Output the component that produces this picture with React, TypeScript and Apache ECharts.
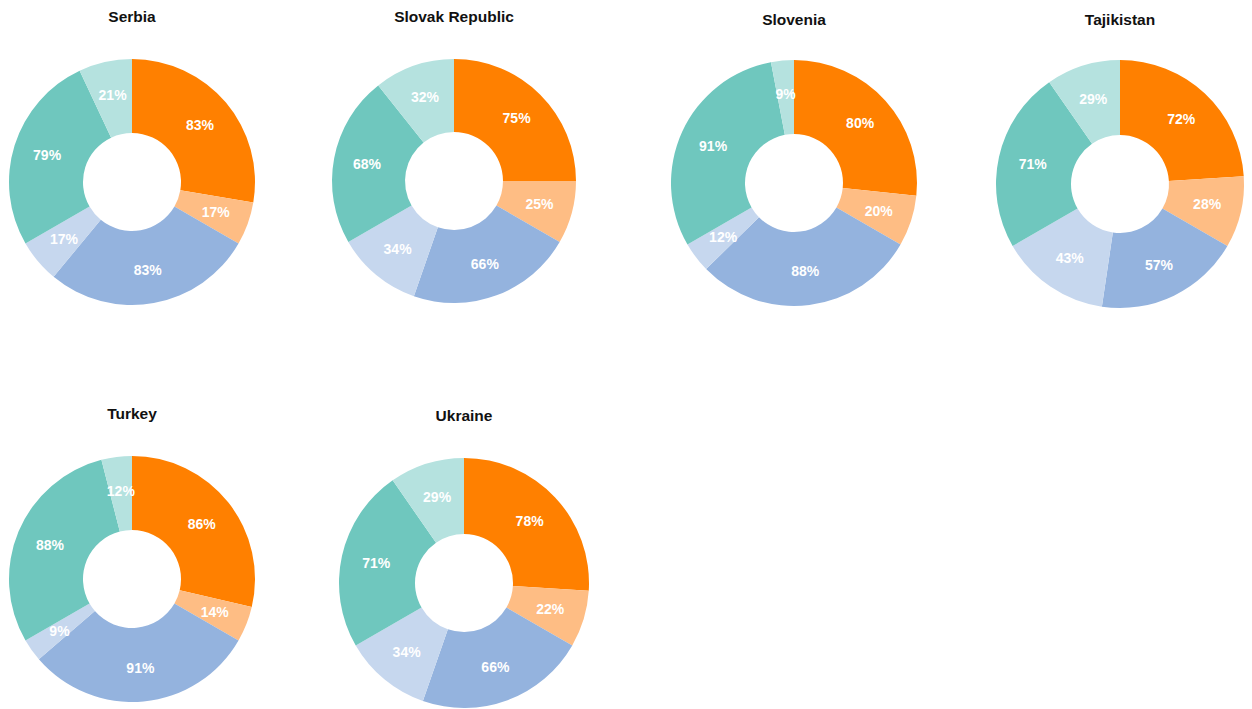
import React, { useEffect, useRef } from "react";
import * as echarts from "echarts";

const countries = ["Serbia", "Slovak Republic", "Slovenia", "Tajikistan", "Turkey", "Ukraine"];
const sliceNames = ["A yes", "A no", "B yes", "B no", "C yes", "C no"];
const serbia = [83, 17, 83, 17, 79, 21];
const slovak = [75, 25, 66, 34, 68, 32];
const slovenia = [80, 20, 88, 12, 91, 9];
const tajikistan = [72, 28, 57, 43, 71, 29];
const turkey = [86, 14, 91, 9, 88, 12];
const ukraine = [78, 22, 66, 34, 71, 29];
const values = [serbia, slovak, slovenia, tajikistan, turkey, ukraine];

const colors = ["#FF8000", "#FEBD84", "#94B3DE", "#C6D7EE", "#6FC7BE", "#B5E2DF"];

const layout = [
  { cx: 132, cy: 182, r: 123, ty: 17 },
  { cx: 454, cy: 181, r: 122, ty: 17 },
  { cx: 794, cy: 183, r: 123, ty: 20 },
  { cx: 1120, cy: 184, r: 124, ty: 20 },
  { cx: 132, cy: 579, r: 123, ty: 414 },
  { cx: 464, cy: 583, r: 125, ty: 416 },
];

export default function App() {
  const ref = useRef<HTMLDivElement>(null);
  useEffect(() => {
    if (!ref.current) return;
    const chart = echarts.init(ref.current, null, { renderer: "svg" });
    chart.setOption({
      animation: false,
      backgroundColor: "#ffffff",
      title: countries.map((c, i) => ({
        text: c,
        left: layout[i].cx,
        top: layout[i].ty - 9,
        textAlign: "center",
        padding: 0,
        textStyle: {
          fontFamily: "Liberation Sans, Arial, sans-serif",
          fontSize: 15.5,
          fontWeight: "bold",
          color: "#111111",
        },
      })),
      series: countries.map((c, i) => ({
        type: "pie",
        name: c,
        center: [layout[i].cx, layout[i].cy],
        radius: [49, layout[i].r],
        startAngle: 90,
        clockwise: true,
        avoidLabelOverlap: false,
        itemStyle: { borderWidth: 0 },
        label: {
          show: true,
          position: "inside",
          formatter: (p: any) => p.value + "%",
          color: "#ffffff",
          fontFamily: "Liberation Sans, Arial, sans-serif",
          fontSize: 14,
          fontWeight: "bold",
        },
        labelLine: { show: false },
        emphasis: { disabled: true },
        data: values[i].map((v, j) => ({
          name: sliceNames[j],
          value: v,
          itemStyle: { color: colors[j] },
        })),
      })),
    });
    return () => chart.dispose();
  }, []);
  return (
    <div
      ref={ref}
      style={{ position: "fixed", left: 0, top: 0, width: 1252, height: 709 }}
    />
  );
}
